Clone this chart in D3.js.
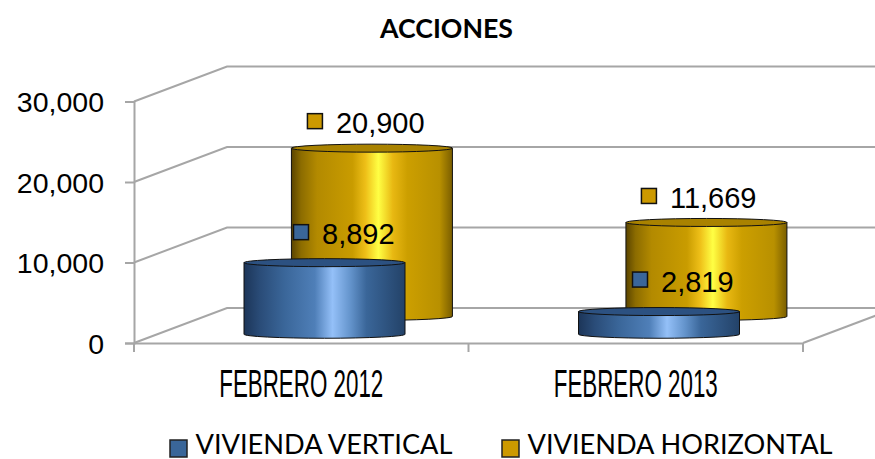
<!DOCTYPE html>
<html><head><meta charset="utf-8">
<script src="https://cdn.jsdelivr.net/npm/d3@7/dist/d3.min.js"></script>
<style>html,body{margin:0;padding:0;background:#fff}svg{display:block}</style>
</head><body><div id="c"></div>
<script>
const categories = ["FEBRERO 2012", "FEBRERO 2013"];
const seriesNames = ["VIVIENDA VERTICAL", "VIVIENDA HORIZONTAL"];
const verticalValues = [8892, 2819];
const horizontalValues = [20900, 11669];
const yTicks = [0, 10000, 20000, 30000];
const seriesColors = ["#3a6699", "#cc9900"];

const W = 875, H = 459;
const svg = d3.select("#c").append("svg").attr("width", W).attr("height", H);
const sans = "'Liberation Sans',Arial,sans-serif";

const x = d3.scaleBand().domain(categories).range([134, 803]);
const y = d3.scaleLinear().domain([0, 30000]).range([343, 101.5]);
const depthX = 93, depthY = 35;      // oblique projection of the back wall
const barW = 161, ry = 4;
const series = [
  {name: seriesNames[0], values: verticalValues, color: seriesColors[0], depth: 0.25, id: "gb",
   stops: [[0,"#1c3558"],[0.1,"#2a4c78"],[0.25,"#3a6699"],[0.44,"#4f7fb8"],[0.55,"#94c0f8"],[0.66,"#6494cc"],[0.76,"#3a6699"],[1,"#234268"]],
   top: "#2c5181", nudge: [[-23.5, -30.5], [-19, -32]]},
  {name: seriesNames[1], values: horizontalValues, color: seriesColors[1], depth: 0.76, id: "gg",
   stops: [[0,"#5a4400"],[0.06,"#8c6c00"],[0.16,"#b38a00"],[0.38,"#c99c00"],[0.46,"#eebf18"],[0.54,"#ffff44"],[0.63,"#e8b812"],[0.72,"#cc9f00"],[0.92,"#b89000"],[1,"#7a5e00"]],
   top: "#a98200", nudge: [[-57, -27], [-57.5, -26.5]]}
];

const defs = svg.append("defs");
series.forEach(s => {
  const g = defs.append("linearGradient").attr("id", s.id);
  s.stops.forEach(([o, c]) => g.append("stop").attr("offset", o).attr("stop-color", c));
});

// walls
const gridC = "#a6a6a6", gridW = 2;
const grid = svg.append("g").attr("fill", "none").attr("stroke", gridC).attr("stroke-width", gridW);
yTicks.forEach(t => {
  grid.append("path").attr("d", d3.line()([
    [x.range()[0], y(t)],
    [x.range()[0] + depthX, y(t) - depthY],
    [W, y(t) - depthY]
  ]));
});
grid.append("line").attr("x1", x.range()[1]).attr("y1", y(0))
  .attr("x2", x.range()[1] + depthX).attr("y2", y(0) - depthY);

// axes
const yAxis = svg.append("g").attr("transform", `translate(${x.range()[0]},0)`)
  .call(d3.axisLeft(y).tickValues(yTicks).tickFormat(d3.format(",")).tickSize(9).tickPadding(21));
const xAxis = svg.append("g").attr("transform", `translate(0,${y(0)})`)
  .call(d3.axisBottom(x).tickSize(0).tickPadding(26));
[yAxis, xAxis].forEach(a => {
  a.selectAll("path.domain").attr("stroke", gridC).attr("stroke-width", gridW);
  a.selectAll("line").attr("stroke", gridC).attr("stroke-width", gridW);
});
yAxis.selectAll("text").attr("font-family", sans).attr("font-size", 28.5).attr("fill", "#000").attr("dy", "0.36em");
xAxis.selectAll("text").attr("font-family", "'Liberation Sans Narrow','Liberation Sans',sans-serif")
  .attr("font-size", 39).attr("fill", "#000").attr("textLength", 164).attr("lengthAdjust", "spacingAndGlyphs");
// category boundary ticks
xAxis.selectAll("line.edge").data([...categories.map(c => x(c)), x.range()[1]]).join("line")
  .attr("class", "edge").attr("x1", d => d).attr("x2", d => d).attr("y1", 0).attr("y2", 9)
  .attr("stroke", gridC).attr("stroke-width", gridW);

// cylinders: rear series first
[series[1], series[0]].forEach(s => {
  const g = svg.append("g");
  categories.forEach((c, i) => {
    const cx = x(c) + x.bandwidth() / 2 + s.depth * depthX;
    const base = y(0) - s.depth * depthY;
    const top = base - (y(0) - y(s.values[i]));
    const l = cx - barW / 2, r = cx + barW / 2;
    g.append("path")
      .attr("d", `M${l},${top}L${l},${base}A${barW/2},${ry} 0 0 0 ${r},${base}L${r},${top}Z`)
      .attr("fill", `url(#${s.id})`).attr("stroke", "#111").attr("stroke-width", 1);
    g.append("ellipse").attr("cx", cx).attr("cy", top).attr("rx", barW / 2).attr("ry", ry)
      .attr("fill", s.top).attr("stroke", "#111").attr("stroke-width", 1);
  });
});

// data labels
const fmt = d3.format(",");
series.forEach(s => {
  categories.forEach((c, i) => {
    const cx = x(c) + x.bandwidth() / 2 + s.depth * depthX;
    const base = y(0) - s.depth * depthY;
    const top = base - (y(0) - y(s.values[i]));
    const mx = cx + s.nudge[i][0], my = top + s.nudge[i][1];
    svg.append("rect").attr("x", mx - 7.5).attr("y", my - 7.5).attr("width", 15).attr("height", 15)
      .attr("fill", s.color).attr("stroke", "#111").attr("stroke-width", 1.5);
    svg.append("text").attr("x", mx + 21).attr("y", my + 12).attr("font-family", sans)
      .attr("font-size", 29).attr("fill", "#000").text(fmt(s.values[i]));
  });
});

// title
svg.append("text").attr("x", 446.5).attr("y", 38).attr("text-anchor", "middle")
  .attr("font-family", "Lato,'Open Sans',sans-serif").attr("font-weight", 700)
  .attr("font-size", 27).attr("fill", "#000").attr("textLength", 133).attr("lengthAdjust", "spacingAndGlyphs").text("ACCIONES");

// legend
const legendX = [170, 502];
const legendLen = [257, 305];
series.forEach((s, i) => {
  svg.append("rect").attr("x", legendX[i]).attr("y", 440).attr("width", 17).attr("height", 17)
    .attr("fill", s.color).attr("stroke", "#222").attr("stroke-width", 1.5);
  svg.append("text").attr("x", legendX[i] + 25.5).attr("y", 453.5).attr("font-family", "Lato,'Open Sans',sans-serif")
    .attr("font-size", 26).attr("fill", "#000").attr("textLength", legendLen[i]).attr("lengthAdjust", "spacingAndGlyphs").text(s.name);
});
</script></body></html>
